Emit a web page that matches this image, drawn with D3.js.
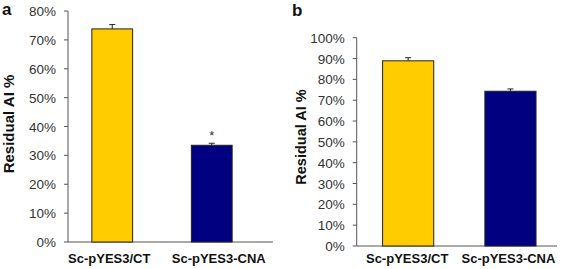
<!DOCTYPE html>
<html>
<head>
<meta charset="utf-8">
<script src="https://cdn.jsdelivr.net/npm/d3@7"></script>
<style>
  body { margin: 0; background: #fff; }
  svg { display: block; font-family: Arial, "Liberation Sans", sans-serif; }
</style>
</head>
<body>
<svg id="chart" width="567" height="269"></svg>
<script>
const categories = ['Sc-pYES3/CT', 'Sc-pYES3-CNA'];
const valuesA = [73.8, 33.5];
const errorsA = [1.5, 0.7];
const marksA = ['', '*'];
const ticksA = [0, 10, 20, 30, 40, 50, 60, 70, 80];
const valuesB = [88.9, 74.3];
const errorsB = [1.5, 1.1];
const marksB = ['', ''];
const ticksB = [0, 10, 20, 30, 40, 50, 60, 70, 80, 90, 100];
const colors = ['#FFCC00', '#000080'];

const svg = d3.select('#chart');

function panel(o) {
  const g = svg.append('g');
  const y = d3.scaleLinear().domain([0, o.max]).range([o.y0, o.y1]);
  const x = d3.scaleBand().domain(categories).range(o.xr).paddingInner(o.pi).paddingOuter(o.po);

  // y axis, ticks outward
  g.append('line').attr('x1', o.ax).attr('x2', o.ax).attr('y1', o.y0).attr('y2', o.y1).attr('stroke', '#555');
  g.append('line').attr('x1', o.ax).attr('x2', o.axEnd).attr('y1', o.y0).attr('y2', o.y0).attr('stroke', '#555');
  g.selectAll('.tk').data(o.ticks).join('line')
    .attr('x1', o.ax - 4).attr('x2', o.ax).attr('y1', d => y(d)).attr('y2', d => y(d)).attr('stroke', '#555');
  g.selectAll('.tl').data(o.ticks).join('text')
    .attr('x', o.ax - 12).attr('y', d => y(d) + 5).attr('text-anchor', 'end')
    .attr('font-size', 13.5).attr('fill', '#333').text(d => d + '%');

  // bars
  g.selectAll('.bar').data(o.values).join('rect')
    .attr('x', (d, i) => x(categories[i])).attr('width', x.bandwidth())
    .attr('y', d => y(d)).attr('height', d => o.y0 - y(d))
    .attr('fill', (d, i) => colors[i]).attr('stroke', '#222').attr('stroke-width', 1);

  // error bars (upper only)
  o.values.forEach((v, i) => {
    const cx = x(categories[i]) + x.bandwidth() / 2;
    g.append('line').attr('x1', cx).attr('x2', cx).attr('y1', y(v)).attr('y2', y(v + o.errors[i])).attr('stroke', '#222');
    g.append('line').attr('x1', cx - 3).attr('x2', cx + 3).attr('y1', y(v + o.errors[i])).attr('y2', y(v + o.errors[i])).attr('stroke', '#222');
    if (o.marks[i]) g.append('text').attr('x', cx).attr('y', y(v + o.errors[i]) - 3).attr('text-anchor', 'middle')
      .attr('font-size', 13).attr('fill', '#333').text(o.marks[i]);
  });

  // category labels
  g.selectAll('.cl').data(categories).join('text')
    .attr('x', (d, i) => x(d) + x.bandwidth() / 2 + o.labelShift[i]).attr('y', 263).attr('text-anchor', 'middle')
    .attr('font-size', 13).attr('font-weight', 'bold').attr('fill', '#111').text(d => d);

  // y title
  g.append('text').attr('transform', `translate(${o.titleX},${o.titleY}) rotate(-90)`)
    .attr('text-anchor', 'middle').attr('font-size', o.titleSize).attr('font-weight', 'bold').attr('fill', '#111')
    .text('Residual AI %');

  // panel letter
  g.append('text').attr('x', o.letterX).attr('y', o.letterY).attr('font-size', 17).attr('font-weight', 'bold')
    .attr('fill', '#111').text(o.letter);
}

panel({
  values: valuesA, errors: errorsA, marks: marksA, ticks: ticksA, max: 80,
  y0: 242, y1: 11, ax: 68, axEnd: 273, xr: [62, 262], pi: 0.59, po: 0.3,
  labelShift: [-3, 7], titleX: 14, titleY: 124, titleSize: 15, letter: 'a', letterX: 2, letterY: 15
});
panel({
  values: valuesB, errors: errorsB, marks: marksB, ticks: ticksB, max: 100,
  y0: 246, y1: 37.7, ax: 356.7, axEnd: 557, xr: [357, 561.6], pi: 0.5, po: 0.25,
  labelShift: [-1, -2], titleX: 306, titleY: 137, titleSize: 14.5, letter: 'b', letterX: 292, letterY: 16
});
</script>
</body>
</html>
